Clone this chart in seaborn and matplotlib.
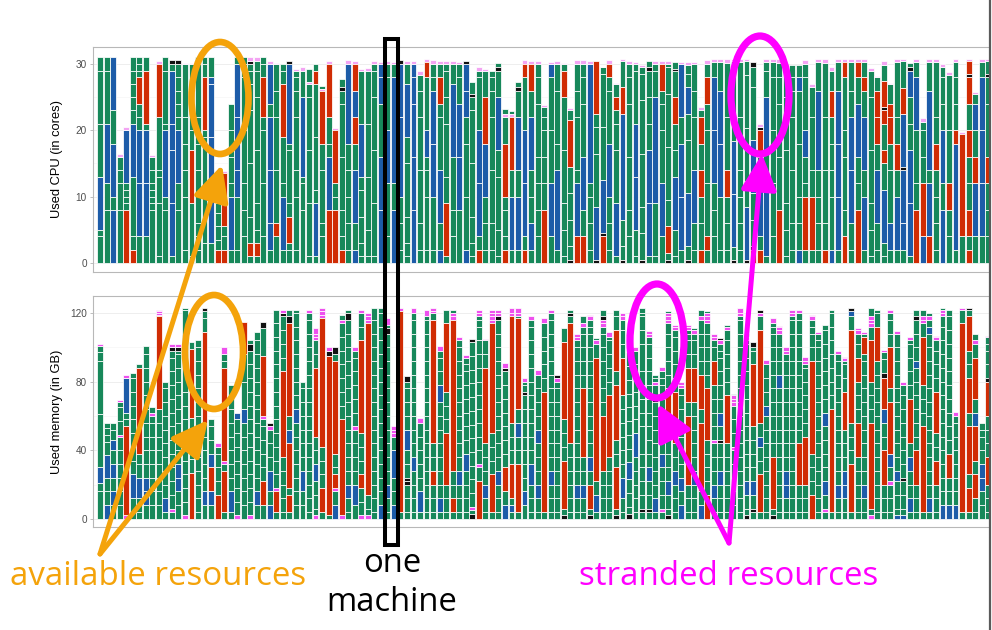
import matplotlib
matplotlib.use("Agg")
import matplotlib.pyplot as plt
from matplotlib.patches import Ellipse, Rectangle
import seaborn as sns
import pandas as pd

# one string per machine, VMs listed bottom -> top: colour letter + size (*n = repeat)
# g = green, b = blue, r = red, p = pink, k = black
cpu_vms = [
    "g4 g1 b8 g8 g8 g2", "g8 g4 b9 g8 g2", "b8 g2 b8 g5 b8", "g8 g4 g2 g2 p0.5",
    "r8 g1*4 b8 p0.5", "r2 g2 g9 b8 g2*5", "g4 b8 b8 g2 g2 r4 g1*3", "g4 b8 b8 g1 r8 g2",
    "g8 g1*4 g2 g2 p0.3", "g1 g8 g4 g1 g8 r8 p0.4", "g8 g2 b10 g1 g8 g2", "g1 b8 b8 b4 b8 g1 k0.6",
    "g8 g4 b8 g2*5 k0.6", "g2 g8 g4 g4 g4 g8 p0.1", "g1 g8 r8 g3 g2 g2 g2 g4 p0.2", "g2 g2 g2 g8 g4 g4 g8 g1",
    "g3 g8 g8 g1 r8 g2 g1", "g3 b8 b8 b8 b1 g3", "r2 g1.5 g2 g2 g1.5 p0.5", "r2 g2 g1.5 r8 p0.3",
    "g2 b8 g2 g4 g4 g4", "g2 g8 b4 b8 b8 g1", "g4 g4 g4 g8 g8 g2 g1", "g1 r2 g4 g8 g8 g4 g2 g1 k0.5 p0.5",
    "g1 r2 g2 g4 g8 g8 g4 g1.5 p0.5", "g4 g8 g8 g2 r6 g2 g1", "g2 b4 b8 b8 g2 b6 p0.5", "g4 r2 g8 g8 g4 g4 p0.2",
    "g2 b8 g2 g7 r8 g2 g1", "g2 g1 r4 g2 g8 g1 b12 k0.4", "g2 g8 g4 g8 g4 g2 g1 p0.2", "g8 g4 g1 b12 g4 p0.5",
    "g1 g8 g8 g8 g2 p0.3 g2", "g1 b8 g2 g8 g8 r2 g1", "g4 g2 g8 g4 r8 p0.3 g0.4", "r8 b8 g2 g4 r8 p0.5",
    "r8 g2 g2 r8 p0.3", "r2 g2 g4 g8 g8 g2 k0.5 g1.3", "g2 g4 g4 g4 g4 b12 p0.6", "b2 g4 b8 g4 r4 b4 r4 p0.4",
    "g1 g2 g4 g4 g2 b8 g8 p0.3", "g1 g4 g8 g8 g8 p0.4", "g1 g8 g8 g8 g4 g1 p0.4", "b8 b8 g8 b4 b2 p0.3",
    "g4 g8 b8 g8 g2 p0.4", "b8 g4 b16 g2 p0.3", "g2 g4 g4 b12 b8 k0.6", "g1 g2 g4 g8 g4 b8 g3 p0.4",
    "b8 b8 b8 b4 b2 p0.5", "g2 g4 g8 g8 g4 g2.4 p0.5", "g2 g8 g4 g2 b4 g8 r2.3 p0.5", "g2 g8 b8 b8 g2 g2 p0.6",
    "b2 g4 b8 g8 g2 r4 g2 p0.4", "g1 r8 g4 g8 g4 g4 g1 p0.5", "g4 g4 g8 b11 g3 p0.5", "g8 b8 b8 g4 g2 p0.3",
    "b2 g8 g8 g4 b4 b4 k0.5", "g1 g2 g4 g8 g8 g2 k0.5 g1.8", "r2 g2 b8 b8 g8 g1 p0.6", "g2 g4 g4 b8 r7 g4 p0.2",
    "g2 g4 g8 g8 g4 g2 g1", "g1 g4 g8 g4 b8 g4 k0.5 g0.6", "r2 g2 g4 g2 r8 g4 p0.5 g0.7", "g2 b8 g4 r8 p0.4 g0.5",
    "g2 b8 g4 b8 g4 k0.5 g0.8", "r2 g2 b8 b8 g8 r2 p0.6", "g2 b4 g4 g4 b8 g4 r4 p0.4", "g4 g4 g4 g4 g8 g4 g2 p0.4",
    "r8 g4 g4 g4 g2 g1.5 p0.3", "g4 b8 g8 g8 b2 p0.3", "g2 b12 g4 g8 g4 p0.4", "g1 g4 g4 g8 g8 r4 g1 p0.1",
    "k0.5 g2 g4 g4 g4 r7 g1.5 p0.4", "r4 b8 g2 g8 g4 g4 p0.6", "r4 g4 b8 g8 g4 g2 p0.6", "g2 g4 g4 g2 b18 p0.5",
    "k0.5 b8 g8 g4 g2 r8", "r4 k0.5 b8 g8 g8 g1 p0.1", "g2 g4 g4 b8 g8 g2 r2 p0.6", "g1 b8 g8 g4 g2 r2 g2 p0.1",
    "k0.5 g2 g4 b16 r4 g4 p0.2", "g4 g4 g8 g8 g4 g2 p0.5", "g1 g4 b8 b8 g8 g1 p0.3", "k0.5 g4 g4 g8 g8 g4 g1 p0.4",
    "g1 b8 b8 g4 g4 g4 k0.5 g1", "g1 g8 b16 g4 g1 p0.5", "g4 b8 g8 g4 g2 r4 p0.5", "k0.5 g1 r4 g4 g8 g8 g4 g0.5 p0.4",
    "g1 g4 b8 g4 g4 r4 g4 k0.3 g1", "g2 b8 b8 g4 b8 p0.3", "k0.5 g2 b8 g8 g4 b4 g2 g1.3 p0.5", "g2 g4 b8 g8 g4 g4 p0.3",
    "r2 g4 g4 r4 g4 r4 g1 p0.5", "g2 r2 g8 g8 g4 r4 g2 p0.6", "g4 g4 g4 b8 b8 g2.3 p0.5", "g2 g8 b8 b8 g4.3 p0.5",
    "g2 g4 g4 r4 g8 g8.2 p0.5", "k0.4 g2 b8 b8 g4 g8 p0.3", "g2 g4 g4 g4 g8 g8.3 p0.5", "k0.4 b8 g4 g8 g8 g2 p0.3",
    "r2 k0.5 g4 g4 b8 g8 g3 k0.8", "r2 g2 b8 g4 r4 k0.5 p0.5", "g1 b12 g4 b8 g4 g1.3 p0.5", "g4 g8 g8 g8 g2.3 p0.5",
    "r8 g8 g8 g4 g2.2 p0.5", "g1 g4 g4 g8 g8 g4.4 p0.5", "g2 g4 g8 g8 g4 g2 g1.9", "b2 g4 g4 g8 g8 b2 g1.9",
    "g2 r8 g2 g4 b4 g8 g2 p0.6", "g2 r8 g4 g8 g4.5 p0.5", "g2 g4 g4 g4 b12 g4.3 p0.5", "r2 g4 g8 g8 g8.2 p0.5",
    "b2 g8 g4 g4 g4 r4 g3 p0.6", "g2 b8 b8 b8 g4.3 p0.5", "r4 g4 g8 g4 g8 r2.3 p0.5", "g2 g4 b8 b8 g4 g4.3 p0.5",
    "r8 g4 g4 b8 g4 r2.3 p0.5", "g2 b8 g4 b8 g4 r2 g2.3 p0.5", "g1 g4 g4 g8 g8 g4 p0.4", "g2 g4 b8 g4 r4 r4 g2 p0.2",
    "g1 g2 b8 g4 r2 g4 r2 k0.5 r4 g2.4 p0.5", "g2 b4 g8 g4 r4 r2 g3 p0.2", "g2 b8 g4 r4 g4 g8.3 p0.5", "g2 b4 b8 k0.4 b8 r4 g4 p0.3",
    "g1 b8 b8 g4 g4 b4 k0.5 g0.7", "r8 g4 g8 b8 g2.3 p0.5", "b4 r8 g4 g4 g1.3 p0.5", "r4 b8 g2 b12 g4.3 p0.5",
    "g2 g4 g4 g4 r4 g4 g8.3 p0.5", "b8 g4 b8 g4 g4 g1.5 p0.5", "g4 g4 r4 g8 g8.3 p0.5", "g2 b16 r2 g4 g4 g2.3 p0.5",
    "g4 r15.5 p0.3", "r2 g2 r4 g4 g4 r4 g4 r4 k0.5 r2 p0.3", "g4 b8 r4 g4 b4 g1.5 p0.3", "g4 b8 b8 b8 g2.3 p0.5",
    "g4 g4 g4 r4 g8 g4 k0.5 g2 p0.3",
]

mem_vms = [
    "g16 g5 b9 g31 g31 g5 g4 p0.7", "b8 g8 g8 b13 g8 g4 g4 g3", "g8 b8 g8 b8 g8 b6 g6 g4", "g8*6 p1 g8 g8 g3 p1",
    "p2 r52 g4 g4 b20 p2", "g4 g8 b14 g8*7 g3", "g4 g8 b12 g8 g6 r50 g2", "g8 b8 b8 g8*9 g5",
    "g8*7 g4 p2 g3", "g8*8 r54 p1*4", "g4 b8 g8*8 g4", "g4 p2 g8*11 g4 k2 p2",
    "g8 g8 b8 b8 g8*8 g2 k2 p2", "p2 g8*9 g16 g8 g8 g16 g1", "r27 g8 g8 g8 g8 r40 g4", "g4 g8*12 g4",
    "g8 b8 g8*5 r53 g8 g4 k2", "g8 b8 r14 b8 g8 g8 g4", "r14 g8 g8 g8 g4 p2", "g4 r24 g4 p2 r54 g4 g4 p4",
    "g4 b12 g8*7 g6", "p2 g8*7 b4", "g8*7 b8 g16 g16 r19", "p2 g8*12 k4 g2",
    "g8 b8 g8*11 g5", "g8 r14 g8*4 g4 p2 r35 g16 k4", "b8 g8 b12 g8 g8 g8 p2 k2", "g4 r12 p2 g8*13",
    "g4 g8*4 r50 g8*4 k2 p2", "g4 r10 g4 r26 b8 g8 r54 k4 g4", "g8*7 b8 g8*7 g2", "g8 g8 b12 g8*6 g4",
    "g4 g8*14 g4 p2", "p2 g4 g8 g8 b10 g8 g8 r40 g8 g8 p2 p2 p3", "g4 r14 g8 g8 g8 r75 p2 p2 p2", "g2 r93 k3 p2",
    "b8 g8 p2 r8 g4 g8 r54 g4 k4", "p2 r56 g8*7 p2 g3", "g4 g8 b8 g8*12 k4 g2", "g8 b12 g8*4 p2 g8*5 g4 p2",
    "p2 g8 g8 r8 g8 g8 g8 r54 g8 g8 p2", "p2 g4 g8 r100 p2 p2 p2", "g4 g8*14 g7", "b8 g8*13 g8 g3",
    "g4 g8 b8 g8*11 k3 g2 p4", "b8 g8 g8 b16 g8 p2 p2 p2", "g4 r117 p2", "g4 g8 g8 k2 k2 g8 g8 b12 g8 g8 g8 g4 k3",
    "g4 g8*3 b8 g8*10 g4 p3", "g4 b12 g8*5 p2.6", "g4 g8*14 g2 p4", "g4 g8 g8 r8 g8 g8 r72 g4 p1 p2",
    "g4 b8 g8*7 b10 g8 g8 g4 p3", "g4 g8 g8 r30 g8 g8 g8 r40 g8", "g4 r8 g8 g8 r88 p2 p2 g2", "g4 g8 g8 b8 g8*9 g4 p2",
    "g4 g8*3 b10 g8*6 g4 g4 p1.5", "k3 g2 p2 g8*12 k2", "r22 g8 p2 g8*10 g4 g2 p2 p2", "g4 g8 b8 g8 g8 g8 r44 g8 g8 p1",
    "g4 r22 g8 g8 g8 r64 p2 p2 p2 p2", "g4 g8 g8 b8 g8*11 k2 p2 p2", "b8 g8 r14 g8*7 k2 p2.7", "g4 b4 g4 r20 g8 g8 g8 r62 p2 p2.7",
    "g4 r28 g8 g8 b8 g8 r53 g1 p2 p2.7", "g8 b8 g8*7 k2 g4 g2 p2", "g4 g8 g8 b12 g8*10 g4 p2", "g4 g8 b8 g8 g8 g8 b8 g8*4 p2.8",
    "g4 r70 g8*5 p3", "g4 g8 g8 b8 g8*11 g4 p2", "g4 g8*9 g4 p2 k2", "k2 g4 r28 g8 g8 g8 r45 g8",
    "g4 g8*5 r70 g4 k2 g2", "g4 g8 b8 g8*10 g4 p2 p2", "g4 g8 b8 g8 g8 r40 g8*4 g4 p2 g4", "k2 g4 r14 g8 b8 g8*9 g4 g4 p2 p1",
    "g4 b10 g8 r72 g8 p2 g1.6", "g4 g8 g8 g8 r32 g8*6 g4 p2 p2 k2 g4", "g4 g8*4 r36 g8*4 g2 p2.7", "k2 g4 r24 g8 g8 r32 g8 r24 g8 g4",
    "g4 g8 b12 g8*6 r22 g8 g8 g6 p2 p1.8", "k3 g4 g8 g8 b10 g8*8 p2 p1", "g4 g8*4 b14 g8*6 p2", "g4 k2 g8*4 g16 g8*4 g16 g8 g8 g2 g3",
    "g4 k2 g8 g8 b8 g8*9 g4 p2 p1.5", "g4 b8 g8*7 k2 g8 p2 g2 g2", "g4 p2 g8*3 b8 g8*5 g4 g4 p2.7", "k2 g4 g8 b8 g8*3 r30 g8*4 g6 p2 p2 p2 g1",
    "g4 g8 g8 b8 g8 g8 r30 g8*4 g4 p2 p1", "b8 g8 b8 g8*6 g4 p2 p2", "g4 g8 g8 r40 g8 r20 g8 g8 g4 g2 p2 p1", "g4 g8 g8 b8 g8*5 r20 g8 g8 g4 p2 g1",
    "b8 g8 r40 g8 r20 g8*4 p2 g4", "r14 g8*4 r30 g8*4 g6 p2 p2 p2 g1", "g4 g8 b8 g8*3 p2 g8*4 r14 g8 g4 p2 p1.6", "g4 g8 g8 b8 g8 g8 k2 g8 b8 g8*4 g4 g4 p2 k1.6",
    "g4 g8*5 r28 g8*4 g6 p2 g1", "g8*5 p2 g8*3 p2 p2 p2 g1", "g4 g8*14 g2 p2 p2.7", "k2 g4 g8 b8 g8*10 g2 p2 g1.6",
    "g4 k2 g8 b8 g8*4 r36 g8 g2 k3", "g4 r22 g8 g8 b6 g8 r54 g8 p2 k2", "g4 g8*7 b6 g8*3 p2.6", "k2 g4 r30 g8*9 g4 g2 p3",
    "g4 g8*9 b8 g8*3 p2 p2 p0.6", "g4 g8 b8 b8 g8*8 g4 p2 p2", "g4 g8*14 g2 p2 p2", "g4 g8 g8 r24 g8*9 g4 p2",
    "g4 g8 g8 r28 g8*5 g2 p2 p2.6", "r14 g8 g8 g8 r54 g8 g8 g4 g4 p2 p1", "g4 g8*12 g4 g4 p0.7", "g4 p2 g8 b8 g8*4 b8 g8*6 g3",
    "g4 r60 g8*7 g2", "g4 g8 b8 g8*9 g4 p2", "g4 g8 b8 b8 g8 g8 g8 r22 g8 g8 g2 p2 p0.6", "g4 r28 g8 g8 g8 r54 g8 b3 k2",
    "g4 g8*4 r20 g8*3 r14 g8 g6 p2 p1.5", "g4 g8 b8 g8*9 g4 r10 g2 p0.7", "p2 g4 r50 g8 g8 g8 r24 g8 p2 p2 p2 g5", "g4 g8*11 r20 g8 g2",
    "g4 g8 g8 r20 g8 g8 b8 r18 k3 g8 g4 p1.4", "g4 g8 g8 p2 g8 b8 r30 g8 r24 g8 g8 g4 p1.7", "b2 g4 g8 g8 b6 g8*10 p1.5", "b2 g4 g8 g8 k2 g8*6 g6 p1.6",
    "g4 b8 g8 g8 b8 g8 r26 g8*4 g2 p2", "g4 g8 g8 r20 g8*6 b4 g8 g8 g8 k2 g4", "g4 r50 g8 g8 g8 r28 g8 p2 p2 g4", "g4 b8 g8*12 b4 g4 p2 g2",
    "g4 g8 g8 r14 g8 g8 r24 g8 g8 g8 g6 p2 p0.8", "b8 g8*13 g6 p2 p2 g1", "b8 g8 g8 r14 g8*10 g4", "b8 g8*6 g4 p2.5",
    "g4 r110 g8 p1", "g4 r14 g8 r28 g8 r20 g8 g8 r20 g4 k1", "g4 g8 r14 g8 r20 b8 g8 r24 g8 p2 g3.6", "g8 g8 b8 b8 g8 g8 g4 g3.7",
    "g4 g8 g8 r16 g8 g8 g8 r20 k2 g8 g8 g4 g4 p0.8",
]

cpu_ticks = [0, 10, 20, 30]
mem_ticks = [0, 40, 80, 120]

cpu_colors = {"g": "#17885A", "b": "#1D5CA8", "r": "#D02C04", "p": "#F3A4F3", "k": "#111111"}
mem_colors = {"g": "#17885A", "b": "#1D5CA8", "r": "#D02C04", "p": "#EE50EE", "k": "#111111"}


def parse(s):
    out = []
    for tok in s.split():
        c, rest = tok[0], tok[1:]
        if "*" in rest:
            v, n = rest.split("*")
            out += [(c, float(v))] * int(n)
        else:
            out.append((c, float(rest)))
    return out


def to_frame(vms):
    rows = []
    for i, s in enumerate(vms):
        bottom = 0.0
        for c, h in parse(s):
            rows.append({"machine": i, "kind": c, "bottom": bottom, "height": h})
            bottom += h
    return pd.DataFrame(rows)


cpu_df = to_frame(cpu_vms)
mem_df = to_frame(mem_vms)

sns.set_theme(style="white")
plt.rcParams["font.family"] = ["Liberation Sans", "DejaVu Sans"]

fig = plt.figure(figsize=(9.92, 6.3), dpi=100)
ax1 = fig.add_axes([0.0938, 0.5683, 0.93, 0.3571])
ax2 = fig.add_axes([0.0938, 0.1635, 0.93, 0.3667])


def draw(ax, df, colors, ticks, ylim, label):
    for c, sub in df.groupby("kind"):
        ax.bar(sub["machine"], sub["height"], bottom=sub["bottom"], width=0.9,
               color=colors[c], edgecolor="white", linewidth=0.55)
    ax.set_xlim(-1.07, 140.2)
    ax.set_ylim(*ylim)
    ax.set_yticks(ticks)
    ax.set_xticks([])
    minor = [(a + b) / 2 for a, b in zip(ticks[:-1], ticks[1:])]
    ax.set_yticks(minor, minor=True)
    ax.yaxis.grid(True, which="major", color="#EBEBEB", lw=0.6, zorder=0)
    ax.yaxis.grid(True, which="minor", color="#F4F4F4", lw=0.4, zorder=0)
    ax.set_axisbelow(True)
    for sp in ax.spines.values():
        sp.set_color("#B8B8B8")
        sp.set_linewidth(0.8)
    ax.tick_params(axis="y", which="major", left=True, length=2.5, width=0.6,
                   color="#B3B3B3", labelsize=7.2, labelcolor="#4D4D4D", pad=2)
    ax.tick_params(axis="y", which="minor", left=False)
    ax.set_ylabel(label, fontsize=9.3, color="black")
    ax.yaxis.set_label_coords(-0.0325, 0.5)


draw(ax1, cpu_df, cpu_colors, cpu_ticks, (-1.36, 32.56), "Used CPU (in cores)")
draw(ax2, mem_df, mem_colors, mem_ticks, (-4.7, 129.9), "Used memory (in GB)")

# annotation layer in pixel coordinates
ov = fig.add_axes([0, 0, 1, 1], zorder=10)
ov.set_xlim(0, 992)
ov.set_ylim(630, 0)
ov.axis("off")
ov.patch.set_alpha(0)

orange = "#F4A30B"
magenta = "#FF00FF"

ov.add_patch(Rectangle((990.5, 0), 2, 630, color="white", zorder=1))
ov.plot([989.5, 989.5], [0, 630], color="#5A5A5A", lw=1.6, zorder=2)

ov.add_patch(Ellipse((220, 98), 57, 112, fill=False, ec=orange, lw=4.8, zorder=3))
ov.add_patch(Ellipse((214, 352), 58, 114, fill=False, ec=orange, lw=4.8, zorder=3))
ov.add_patch(Ellipse((760, 95), 58, 118, fill=False, ec=magenta, lw=5.2, zorder=3))
ov.add_patch(Ellipse((657, 341), 54, 114, fill=False, ec=magenta, lw=5.2, zorder=3))

ov.add_patch(Rectangle((385, 39), 13, 506, fill=False, ec="black", lw=2.9, zorder=3))

arrow = dict(arrowstyle="-|>,head_length=1.1,head_width=0.55", mutation_scale=20,
             shrinkA=0, shrinkB=0, lw=3.6)
ov.annotate("", xy=(222, 165), xytext=(100, 554), arrowprops=dict(arrow, color=orange), zorder=4)
ov.annotate("", xy=(208, 420), xytext=(100, 554), arrowprops=dict(arrow, color=orange), zorder=4)
ov.annotate("", xy=(762, 154), xytext=(729, 543), arrowprops=dict(arrow, color=magenta), zorder=4)
ov.annotate("", xy=(658, 404), xytext=(729, 543), arrowprops=dict(arrow, color=magenta), zorder=4)

tfont = ["Open Sans", "DejaVu Sans"]
ov.text(158, 585, "available resources", color=orange, fontsize=23.8, family=tfont,
        ha="center", va="baseline")
ov.text(729, 585, "stranded resources", color=magenta, fontsize=23.8, family=tfont,
        ha="center", va="baseline")
ov.text(392, 572, "one", color="black", fontsize=23.6, family=tfont, ha="center", va="baseline")
ov.text(392, 611, "machine", color="black", fontsize=23.6, family=tfont, ha="center", va="baseline")

fig.savefig("out.png", dpi=100)
